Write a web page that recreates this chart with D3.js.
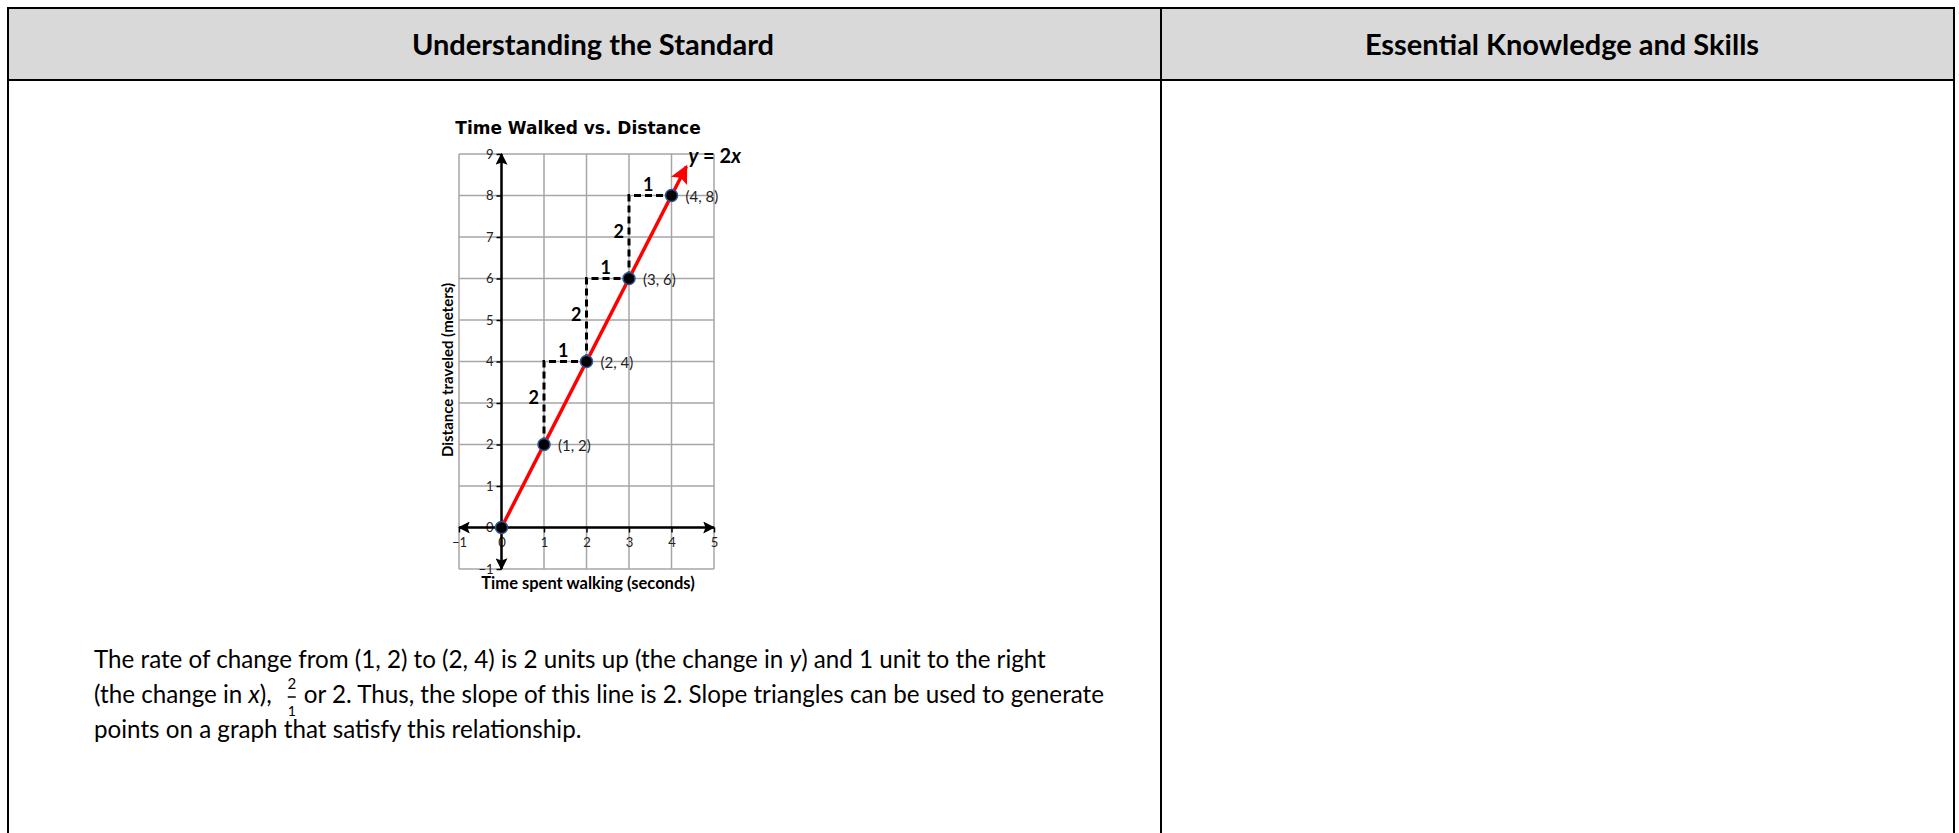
<!DOCTYPE html>
<meta charset="utf-8">
<title>slope triangles</title>
<style>

body {
  margin: 0;
  background: #fff;
}

svg text {
  fill: #000;
}

.grid line {
  stroke: #a6a6a6;
  stroke-width: 1.5px;
}

.axis-line {
  stroke: #000;
  stroke-width: 2.5px;
}

.tick line {
  stroke: #000;
  stroke-width: 1.5px;
}

.tick text {
  font-family: Lato, "Open Sans", sans-serif;
  font-size: 13px;
  fill: #222;
}

.para {
  font-family: Lato, "Open Sans", sans-serif;
  font-size: 24.2px;
}

</style>
<body>
<script src="https://cdn.jsdelivr.net/npm/d3@7"></script>
<script>

var width = 1959,
    height = 833;

// chart values
var xTicks = [-1, 0, 1, 2, 3, 4, 5],
    yTicks = [-1, 0, 1, 2, 3, 4, 5, 6, 7, 8, 9];

var points = [[0, 0], [1, 2], [2, 4], [3, 6], [4, 8]];
var pointLabels = ["", "(1, 2)", "(2, 4)", "(3, 6)", "(4, 8)"];

// each step: start x, start y, rise, run
var steps = [[1, 2, 2, 1], [2, 4, 2, 1], [3, 6, 2, 1]];

var lineEnd = [4.35, 8.7];

var headers = ["Understanding the Standard", "Essential Knowledge and Skills"];

var svg = d3.select("body").append("svg")
    .attr("width", width)
    .attr("height", height);

var defs = svg.append("defs");

function arrow(id, color, size) {
  defs.append("marker")
      .attr("id", id)
      .attr("viewBox", "0 -5 10 10")
      .attr("refX", 9)
      .attr("refY", 0)
      .attr("markerWidth", size)
      .attr("markerHeight", size)
      .attr("markerUnits", "userSpaceOnUse")
      .attr("orient", "auto-start-reverse")
    .append("path")
      .attr("d", "M0,-5L10,0L0,5L2,0Z")
      .attr("fill", color);
}
arrow("arrow-black", "#000", 12);
arrow("arrow-red", "#f00", 18);

// ---- table ----
var tLeft = 8, tMid = 1161, tRight = 1954, tTop = 8, tHead = 80;

svg.append("rect")
    .attr("x", tLeft).attr("y", tTop)
    .attr("width", tRight - tLeft).attr("height", tHead - tTop)
    .attr("fill", "#d9d9d9");

var borders = [
  [tLeft - 1, tTop, tRight + 1, tTop],
  [tLeft, tHead, tRight, tHead],
  [tLeft, tTop, tLeft, height],
  [tMid, tTop, tMid, height],
  [tRight, tTop, tRight, height]
];

svg.selectAll(".border")
    .data(borders)
  .enter().append("line")
    .attr("class", "border")
    .attr("x1", function(d) { return d[0]; })
    .attr("y1", function(d) { return d[1]; })
    .attr("x2", function(d) { return d[2]; })
    .attr("y2", function(d) { return d[3]; })
    .attr("stroke", "#000")
    .attr("stroke-width", 2);

svg.selectAll(".header")
    .data(headers)
  .enter().append("text")
    .attr("class", "header")
    .attr("x", function(d, i) { return i ? 1562 : 593; })
    .attr("y", 55)
    .attr("text-anchor", "middle")
    .style("font-family", "Lato, 'Open Sans', sans-serif")
    .style("font-weight", "bold")
    .style("font-size", "29px")
    .text(function(d) { return d; });

// ---- chart ----
var x = d3.scaleLinear().domain([-1, 5]).range([459, 714]),
    y = d3.scaleLinear().domain([-1, 9]).range([569, 154]);

var chart = svg.append("g");

var grid = chart.append("g").attr("class", "grid");

grid.selectAll(".v")
    .data(xTicks)
  .enter().append("line")
    .attr("x1", x).attr("x2", x)
    .attr("y1", y(-1)).attr("y2", y(9));

grid.selectAll(".h")
    .data(yTicks)
  .enter().append("line")
    .attr("y1", y).attr("y2", y)
    .attr("x1", x(-1)).attr("x2", x(5));

// axes with little ticks, the domain line is drawn with arrows instead
var yAxis = chart.append("g")
    .attr("transform", "translate(" + x(0) + ",0)")
    .call(d3.axisLeft(y).tickValues(yTicks).tickSize(5).tickFormat(d3.format("d")));
yAxis.select(".domain").remove();

var xAxis = chart.append("g")
    .attr("transform", "translate(0," + y(0) + ")")
    .call(d3.axisBottom(x).tickValues(xTicks).tickSize(5).tickFormat(d3.format("d")));
xAxis.select(".domain").remove();
xAxis.selectAll("text").attr("dy", "0.85em");

chart.append("line")
    .attr("class", "axis-line")
    .attr("x1", x(0)).attr("x2", x(0))
    .attr("y1", y(-1)).attr("y2", y(9))
    .attr("marker-start", "url(#arrow-black)")
    .attr("marker-end", "url(#arrow-black)");

chart.append("line")
    .attr("class", "axis-line")
    .attr("x1", x(-1)).attr("x2", x(5))
    .attr("y1", y(0)).attr("y2", y(0))
    .attr("marker-start", "url(#arrow-black)")
    .attr("marker-end", "url(#arrow-black)");

// slope triangles
chart.selectAll(".step")
    .data(steps)
  .enter().append("path")
    .attr("class", "step")
    .attr("d", function(d) {
      return "M" + x(d[0]) + "," + y(d[1]) +
             "V" + y(d[1] + d[2]) +
             "H" + x(d[0] + d[3]);
    })
    .attr("fill", "none")
    .attr("stroke", "#000")
    .attr("stroke-width", 3)
    .attr("stroke-dasharray", "7,4");

chart.selectAll(".rise")
    .data(steps)
  .enter().append("text")
    .attr("x", function(d) { return x(d[0]) - 5; })
    .attr("y", function(d) { return y(d[1] + d[2] / 2) + 1; })
    .attr("text-anchor", "end")
    .style("font-family", "Lato, sans-serif")
    .style("font-weight", "bold")
    .style("font-size", "18px")
    .text(function(d) { return d[2]; });

chart.selectAll(".run")
    .data(steps)
  .enter().append("text")
    .attr("x", function(d) { return x(d[0] + d[3] / 2) - 2; })
    .attr("y", function(d) { return y(d[1] + d[2]) - 5; })
    .attr("text-anchor", "middle")
    .style("font-family", "Lato, sans-serif")
    .style("font-weight", "bold")
    .style("font-size", "18px")
    .text(function(d) { return d[3]; });

// y = 2x
chart.append("line")
    .attr("x1", x(0)).attr("y1", y(0))
    .attr("x2", x(lineEnd[0])).attr("y2", y(lineEnd[1]))
    .attr("stroke", "#f00")
    .attr("stroke-width", 3.5)
    .attr("marker-end", "url(#arrow-red)");

chart.selectAll(".dot")
    .data(points)
  .enter().append("circle")
    .attr("cx", function(d) { return x(d[0]); })
    .attr("cy", function(d) { return y(d[1]); })
    .attr("r", 6)
    .attr("fill", "#000")
    .attr("stroke", "#2f5597")
    .attr("stroke-width", 1.5);

chart.selectAll(".plabel")
    .data(points)
  .enter().append("text")
    .attr("x", function(d) { return x(d[0]) + 14; })
    .attr("y", function(d) { return y(d[1]) + 6; })
    .style("font-family", "Lato, sans-serif")
    .style("font-size", "15px")
    .style("fill", "#222")
    .text(function(d, i) { return pointLabels[i]; });

var eq = chart.append("text")
    .attr("x", x(lineEnd[0]) + 2)
    .attr("y", y(lineEnd[1]) - 3)
    .style("font-family", "Lato, sans-serif")
    .style("font-weight", "bold")
    .style("font-size", "20px");
eq.append("tspan").style("font-style", "italic").text("y");
eq.append("tspan").text(" = 2");
eq.append("tspan").style("font-style", "italic").text("x");

chart.append("text")
    .attr("x", 578)
    .attr("y", 134)
    .attr("text-anchor", "middle")
    .style("font-family", "'DejaVu Sans', sans-serif")
    .style("font-weight", "bold")
    .style("font-size", "17px")
    .text("Time Walked vs. Distance");

chart.append("text")
    .attr("transform", "translate(453,370)rotate(-90)")
    .attr("text-anchor", "middle")
    .style("font-family", "Lato, sans-serif")
    .style("font-weight", "bold")
    .style("font-size", "15px")
    .text("Distance traveled (meters)");

chart.append("text")
    .attr("x", 588)
    .attr("y", 589)
    .attr("text-anchor", "middle")
    .style("font-family", "Lato, sans-serif")
    .style("font-weight", "bold")
    .style("font-size", "16.5px")
    .text("Time spent walking (seconds)");

// ---- paragraph ----
var textX = 94;

var line1 = svg.append("text").attr("class", "para").attr("x", textX).attr("y", 668);
line1.append("tspan").text("The rate of change from (1, 2) to (2, 4) is 2 units up (the change in ");
line1.append("tspan").style("font-style", "italic").text("y");
line1.append("tspan").text(") and 1 unit to the right");

var line2 = svg.append("text").attr("class", "para").attr("x", textX).attr("y", 703);
line2.append("tspan").text("(the change in ");
line2.append("tspan").style("font-style", "italic").text("x");
line2.append("tspan").text("),");

var fx = textX + line2.node().getComputedTextLength() + 20;

svg.append("text").attr("class", "para")
    .attr("x", fx).attr("y", 689)
    .attr("text-anchor", "middle")
    .style("font-size", "15px")
    .text("2");
svg.append("line")
    .attr("x1", fx - 4).attr("x2", fx + 4)
    .attr("y1", 697).attr("y2", 697)
    .attr("stroke", "#000").attr("stroke-width", 1.5);
svg.append("text").attr("class", "para")
    .attr("x", fx).attr("y", 716)
    .attr("text-anchor", "middle")
    .style("font-size", "14px")
    .text("1");

svg.append("text").attr("class", "para")
    .attr("x", fx + 12).attr("y", 703)
    .text("or 2. Thus, the slope of this line is 2. Slope triangles can be used to generate");

svg.append("text").attr("class", "para")
    .attr("x", textX).attr("y", 738)
    .text("points on a graph that satisfy this relationship.");

</script>
</body>
</html>
